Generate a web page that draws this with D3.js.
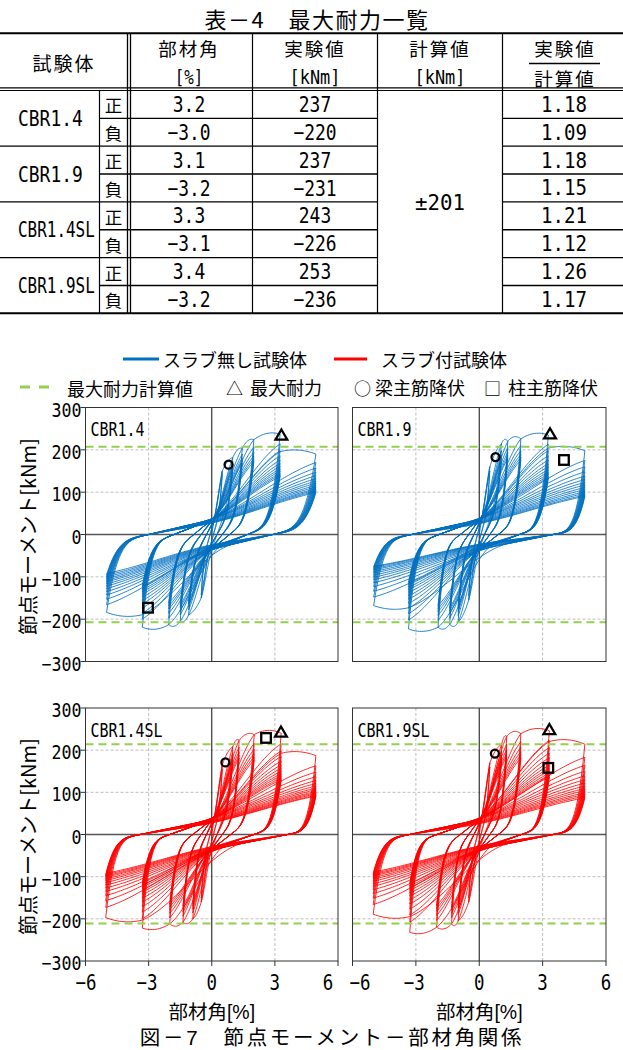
<!DOCTYPE html>
<html><head><meta charset="utf-8">
<script src="https://cdn.jsdelivr.net/npm/d3@7"></script>
<style>body{margin:0;background:#fff}svg{display:block}</style>
</head><body>
<svg id="c" width="623" height="1050"></svg>
<script>
// ================= DATA =================
// Table 4
const tableSpecimens = ["CBR1.4","CBR1.9","CBR1.4SL","CBR1.9SL"];
const tableDirs = ["正","負"];
const tableAngle = [[3.2,-3.0],[3.1,-3.2],[3.3,-3.1],[3.4,-3.2]];
const tableExp = [[237,-220],[237,-231],[243,-226],[253,-236]];
const tableCalc = "±201";
const tableRatio = [[1.18,1.09],[1.18,1.15],[1.21,1.12],[1.26,1.17]];

// Axes
const xTicks = [-6,-3,0,3,6];
const yTicks = [-300,-200,-100,0,100,200,300];
const xGrid = [-3,3];
const yGrid = [-200,-100,100,200];

// Calculated max strength lines (as drawn in each panel)
const calcLines = [[207,-207],[207,-207],[214,-211],[214,-211]];

// CBR1.4 (blue) : cycle peaks per drift level
const CBR14_posDrift = [0.5,1.0,1.45,2.0,3.25,4.95];
const CBR14_negDrift = [-0.5,-1.1,-1.5,-2.05,-3.3,-5.0];
const CBR14_posPeak = [[150,142],[182,172,165,160,156],[204,190,181,174,168],[224,206,194,185,178,172],
  [237,214,198,186,176,168,161,155,150,145,141,137],
  [190,170,157,147,139,132,126,121,116,112,108,105,102,99]];
const CBR14_negPeak = [[-150,-142],[-190,-178,-170,-164,-158],[-205,-190,-180,-172,-166],[-213,-198,-186,-176,-169,-162],
  [-219,-200,-186,-174,-164,-156,-148,-141,-135,-130,-125,-121],
  [-184,-166,-153,-143,-135,-128,-122,-117,-112,-108,-104,-100,-96,-92]];
const CBR14_posZero = [0.08,0.25,0.5,0.85,1.7,2.9];
const CBR14_negZero = [-0.08,-0.25,-0.5,-0.85,-1.8,-3.0];
const CBR14_maxPt = [3.31,232], CBR14_beamYield = [0.80,165], CBR14_colYield = [-3.03,-173];

// CBR1.9 (blue)
const CBR19_posDrift = [0.5,1.05,1.35,1.97,3.27,5.0];
const CBR19_negDrift = [-0.5,-1.0,-1.4,-1.95,-3.35,-5.0];
const CBR19_posPeak = [[160,150],[214,198,188,180,174],[220,205,194,186,180],[226,210,198,189,182,176],
  [235,213,198,186,176,167,160,153,147,142,137,133],
  [198,175,160,148,138,130,123,117,111,106,101,97,93,90]];
const CBR19_negPeak = [[-155,-145],[-207,-192,-182,-175,-169],[-212,-198,-188,-180,-174],[-219,-203,-191,-182,-175,-168],
  [-223,-202,-187,-174,-163,-153,-145,-137,-130,-124,-118,-113],
  [-168,-148,-134,-123,-114,-107,-101,-96,-91,-87,-83,-80,-77,-75]];
const CBR19_posZero = [0.08,0.25,0.5,0.9,1.9,3.5];
const CBR19_negZero = [-0.08,-0.25,-0.5,-0.9,-1.9,-3.2];
const CBR19_maxPt = [3.35,235], CBR19_beamYield = [0.77,183], CBR19_colYield = [4.01,176];

// CBR1.4SL (red)
const CBR14SL_posDrift = [0.5,1.0,1.3,2.02,3.3,4.95];
const CBR14SL_negDrift = [-0.5,-0.9,-1.37,-2.0,-3.3,-5.04];
const CBR14SL_posPeak = [[165,155],[208,194,184,177,171],[223,207,196,188,181],[237,216,202,192,184,177],
  [240,215,198,185,174,165,157,150,144,139,134,130],
  [187,163,148,137,128,121,115,110,106,102,99,96,93,91]];
const CBR14SL_negPeak = [[-160,-150],[-200,-186,-177,-170,-164],[-208,-194,-184,-176,-170],[-212,-198,-187,-178,-171,-165],
  [-222,-200,-184,-171,-160,-151,-143,-136,-130,-124,-119,-114],
  [-197,-173,-157,-145,-135,-127,-120,-114,-109,-105,-101,-98,-95,-92]];
const CBR14SL_posZero = [0.08,0.25,0.5,0.9,2.0,3.6];
const CBR14SL_negZero = [-0.08,-0.25,-0.5,-0.9,-2.0,-3.4];
const CBR14SL_maxPt = [3.29,240], CBR14SL_beamYield = [0.65,171], CBR14SL_colYield = [2.58,229];

// CBR1.9SL (red)
const CBR19SL_posDrift = [0.5,1.06,1.3,1.97,3.32,5.0];
const CBR19SL_negDrift = [-0.5,-1.0,-1.31,-2.02,-3.29,-5.02];
const CBR19SL_posPeak = [[170,160],[214,198,188,181,175],[233,214,202,193,186],[239,220,206,196,188,181],
  [246,223,206,193,182,172,164,157,151,145,140,136],
  [214,183,164,150,139,130,122,115,109,104,99,95,91,87]];
const CBR19SL_negPeak = [[-160,-150],[-205,-190,-180,-173,-167],[-212,-197,-187,-179,-173],[-220,-204,-192,-182,-175,-168],
  [-232,-208,-191,-177,-165,-155,-146,-139,-132,-126,-121,-116],
  [-189,-166,-151,-140,-131,-123,-117,-111,-106,-102,-98,-95,-92,-89]];
const CBR19SL_posZero = [0.08,0.25,0.5,0.9,2.0,3.5];
const CBR19SL_negZero = [-0.08,-0.25,-0.5,-0.9,-2.0,-3.3];
const CBR19SL_maxPt = [3.32,246], CBR19SL_beamYield = [0.74,192], CBR19SL_colYield = [3.27,158];

// Loop-shape parameters
const PINCH = 35;      // moment at zero drift on the pinched branch
const PINCH_CAP = 0.7;

// ================= STYLE / LAYOUT =================
const BLUE = "#0070C0", RED = "#FF0000", GREEN = "#92D050";
const FONT_JP = "'Noto Sans CJK JP','Noto Sans CJK SC',sans-serif";
const FONT_JP_TIGHT = "'Liberation Sans','Noto Sans CJK JP',sans-serif";
const FONT_MONO = "'DejaVu Sans Mono','Liberation Mono',monospace";
const PANELS = [
  {x0:85.5, x1:338, y0:407.5, y1:661.5},
  {x0:352.5, x1:606, y0:407.5, y1:661.5},
  {x0:85.5, x1:338, y0:708, y1:961},
  {x0:352.5, x1:606, y0:708, y1:961}
];

const specimens = [
  {name:"CBR1.4", color:BLUE, posDrift:CBR14_posDrift, negDrift:CBR14_negDrift, posPeak:CBR14_posPeak, negPeak:CBR14_negPeak,
   posZero:CBR14_posZero, negZero:CBR14_negZero, maxPt:CBR14_maxPt, beam:CBR14_beamYield, col:CBR14_colYield},
  {name:"CBR1.9", color:BLUE, posDrift:CBR19_posDrift, negDrift:CBR19_negDrift, posPeak:CBR19_posPeak, negPeak:CBR19_negPeak,
   posZero:CBR19_posZero, negZero:CBR19_negZero, maxPt:CBR19_maxPt, beam:CBR19_beamYield, col:CBR19_colYield},
  {name:"CBR1.4SL", color:RED, posDrift:CBR14SL_posDrift, negDrift:CBR14SL_negDrift, posPeak:CBR14SL_posPeak, negPeak:CBR14SL_negPeak,
   posZero:CBR14SL_posZero, negZero:CBR14SL_negZero, maxPt:CBR14SL_maxPt, beam:CBR14SL_beamYield, col:CBR14SL_colYield},
  {name:"CBR1.9SL", color:RED, posDrift:CBR19SL_posDrift, negDrift:CBR19SL_negDrift, posPeak:CBR19SL_posPeak, negPeak:CBR19SL_negPeak,
   posZero:CBR19SL_posZero, negZero:CBR19SL_negZero, maxPt:CBR19SL_maxPt, beam:CBR19SL_beamYield, col:CBR19SL_colYield}
];

const svg = d3.select("#c");

// narrow, tall half-width digits (like a Gothic half-width font)
function mono(g, x, y, str, size, cell, anchor){
  const sx = cell/(0.602*size);
  return g.append("text").attr("transform",`translate(${x},${y}) scale(${sx.toFixed(4)},1)`)
    .attr("font-family",FONT_MONO).attr("font-size",size)
    .attr("text-anchor",anchor||"middle").attr("dominant-baseline","central")
    .attr("fill","#000").text(str);
}
function jp(g, x, y, str, size, anchor, ls, fam){
  return g.append("text").attr("x",x).attr("y",y)
    .attr("font-family",fam||FONT_JP).attr("font-size",size)
    .attr("text-anchor",anchor||"middle").attr("dominant-baseline","central")
    .attr("letter-spacing",ls||0).attr("fill","#000").text(str);
}
const fmtNum = s => s.replace("-","−");

// ================= TABLE =================
const tg = svg.append("g");
jp(tg, 317, 18, "表－4　最大耐力一覧", 22, "middle", 1.5);
const T = {top:33.3, hA:87.8, hB:90.5, bottom:313.3};
const rowH = (T.bottom - T.hB)/8;
const colX = {dir:99.5, dbl1:127.5, dbl2:130.5, ang:252.5, exp:377.5, calc:502.5};
function hline(x1,x2,y,w){ tg.append("line").attr("x1",x1).attr("x2",x2).attr("y1",y).attr("y2",y).attr("stroke","#000").attr("stroke-width",w); }
function vline(x,y1,y2,w){ tg.append("line").attr("x1",x).attr("x2",x).attr("y1",y1).attr("y2",y2).attr("stroke","#000").attr("stroke-width",w); }
hline(0,623,T.top,2);
hline(0,623,T.hA,1.2);
hline(0,623,T.hB,1.2);
for(let k=1;k<=8;k++){
  const y = T.hB + k*rowH;
  if(k===8){ hline(0,623,y,2); }
  else if(k%2===0){ hline(0,colX.exp,y,1.2); hline(colX.calc,623,y,1.2); }
  else { hline(colX.dir,colX.exp,y,1.4); hline(colX.calc,623,y,1.4); }
}
vline(colX.dir,T.hB,T.bottom,1.2);
vline(colX.dbl1,T.top,T.bottom,1.3);
vline(colX.dbl2,T.top,T.bottom,1.3);
vline(colX.ang,T.top,T.bottom,1.2);
vline(colX.exp,T.top,T.bottom,1.2);
vline(colX.calc,T.top,T.bottom,1.2);

// header
jp(tg, 64, 62, "試験体", 19, "middle", 2);
jp(tg, 189, 48, "部材角", 18.5, "middle", 2);
mono(tg, 189, 77, "[%]", 20, 9.5);
jp(tg, 315, 48, "実験値", 18.5, "middle", 2);
mono(tg, 315, 77, "[kNm]", 20, 10.2);
jp(tg, 440, 48, "計算値", 18.5, "middle", 2);
mono(tg, 440, 77, "[kNm]", 20, 10.2);
jp(tg, 565, 48, "実験値", 18.5, "middle", 2);
hline(529,600,63.5,1.3);
jp(tg, 565, 78, "計算値", 18.5, "middle", 2);

// body
tableSpecimens.forEach((s,i)=>{
  const gy = T.hB + rowH*(2*i+1);
  mono(tg, 18, gy, s, 22, s.length>6?9.6:10.8, "start");
  tableDirs.forEach((dname,j)=>{
    const ry = T.hB + rowH*(2*i+j+0.5);
    jp(tg, 113.5, ry+0.5, dname, 17.5);
    mono(tg, 189, ry, fmtNum(tableAngle[i][j].toFixed(1)), 22, 10.8);
    mono(tg, 315, ry, fmtNum(String(tableExp[i][j])), 22, 10.8);
    mono(tg, 564, ry, tableRatio[i][j].toFixed(2), 22, 11.5);
  });
});
mono(tg, 440, (T.hB+T.bottom)/2, tableCalc, 22, 12.5);

// ================= LEGEND =================
const lg = svg.append("g");
lg.append("line").attr("x1",123).attr("x2",159).attr("y1",359).attr("y2",359).attr("stroke",BLUE).attr("stroke-width",3);
jp(lg, 163, 359, "スラブ無し試験体", 18, "start");
lg.append("line").attr("x1",334).attr("x2",367).attr("y1",359).attr("y2",359).attr("stroke",RED).attr("stroke-width",3);
jp(lg, 381, 359, "スラブ付試験体", 18, "start");
lg.append("line").attr("x1",20).attr("x2",49).attr("y1",387).attr("y2",387).attr("stroke",GREEN).attr("stroke-width",3).attr("stroke-dasharray","10,9");
jp(lg, 67, 388, "最大耐力計算値", 18, "start");
jp(lg, 226, 387, "△", 17, "start");
jp(lg, 250, 387, "最大耐力", 18, "start");
jp(lg, 354, 387, "○", 17, "start");
jp(lg, 375, 387, "梁主筋降伏", 18, "start");
jp(lg, 484, 387, "□", 17, "start");
jp(lg, 508, 387, "柱主筋降伏", 18, "start");

// ================= LOOP MODEL =================
// sequence of peaks; first cycle of a new level heads for the previous level's peak region first
function buildPeaks(sp){
  const pk = [];
  sp.posDrift.forEach((_,i)=>{
    const n = Math.max(sp.posPeak[i].length, sp.negPeak[i].length);
    for(let j=0;j<n;j++){
      const mp = sp.posPeak[i][Math.min(j,sp.posPeak[i].length-1)];
      const mn = sp.negPeak[i][Math.min(j,sp.negPeak[i].length-1)];
      let viaP = null, viaN = null;
      if(i>0 && j===0){
        viaP = {d:sp.posDrift[i-1], m:Math.min(sp.posPeak[i-1][0], mp*1.03)};
        viaN = {d:sp.negDrift[i-1], m:-Math.min(-sp.negPeak[i-1][0], -mn*1.03)};
      }
      pk.push({d:sp.posDrift[i], m:mp, z:sp.posZero[i], via:viaP});
      pk.push({d:sp.negDrift[i], m:mn, z:sp.negZero[i], via:viaN});
    }
  });
  return pk;
}
function branchPts(p,q){
  if(p.z===null) return [[p.d,p.m],[q.d,q.m]];
  const s = Math.sign(q.d-p.d);
  let slope = -s*PINCH/p.z;
  let Lq = slope*(q.d-p.z);
  if(Math.abs(Lq) > PINCH_CAP*Math.abs(q.m)){ slope = PINCH_CAP*q.m/(q.d-p.z); Lq = PINCH_CAP*q.m; }
  const L = d => slope*(d-p.z);
  const Ua = p.m - L(p.d), Hb = q.m - Lq;
  const b = p.z + (q.d-p.z)*0.3;
  const NS = 100, pts = [];
  for(let i=0;i<=NS;i++){
    const d = p.d + (q.d-p.d)*i/NS;
    let y = L(d);
    const u = (d-p.z)/(p.d-p.z);
    if(u>0) y += Ua*Math.pow(u,4);
    const h = (d-b)/(q.d-b);
    if(h>0) y += Hb*(0.8*(3*h*h-2*h*h*h) + 0.2*h*h);
    pts.push([d,y]);
  }
  return pts;
}
function fullBranch(p,q){
  if(q.via && p.z!==null){
    const a = branchPts(p,{d:q.via.d, m:q.via.m});
    const n = 16, seg = [];
    const bulge = Math.sign(q.m)*0.035*Math.abs(q.m);
    for(let i=1;i<=n;i++){
      const t = i/n;
      seg.push([q.via.d+(q.d-q.via.d)*t, q.via.m+(q.m-q.via.m)*t + bulge*4*t*(1-t)]);
    }
    return a.concat(seg);
  }
  return branchPts(p,q);
}

// ================= PANELS =================
specimens.forEach((sp,pi)=>{
  const P = PANELS[pi];
  const xs = d3.scaleLinear().domain([-6,6]).range([P.x0,P.x1]);
  const ys = d3.scaleLinear().domain([-300,300]).range([P.y1,P.y0]);
  const g = svg.append("g");
  const clipId = "clip"+pi;
  svg.append("clipPath").attr("id",clipId).append("rect").attr("x",P.x0).attr("y",P.y0).attr("width",P.x1-P.x0).attr("height",P.y1-P.y0);

  // grid
  g.selectAll(".gx").data(xGrid).join("line").attr("x1",d=>xs(d)).attr("x2",d=>xs(d)).attr("y1",P.y0).attr("y2",P.y1)
    .attr("stroke","#bfbfbf").attr("stroke-width",1).attr("stroke-dasharray","3,2");
  g.selectAll(".gy").data(yGrid).join("line").attr("x1",P.x0).attr("x2",P.x1).attr("y1",d=>ys(d)).attr("y2",d=>ys(d))
    .attr("stroke","#bfbfbf").attr("stroke-width",1).attr("stroke-dasharray","3,2");
  // zero lines
  g.append("line").attr("x1",xs(0)).attr("x2",xs(0)).attr("y1",P.y0).attr("y2",P.y1).attr("stroke","#222").attr("stroke-width",1.1);
  g.append("line").attr("x1",P.x0).attr("x2",P.x1).attr("y1",ys(0)).attr("y2",ys(0)).attr("stroke","#555").attr("stroke-width",1.4);

  // loops
  const peaks = buildPeaks(sp);
  const line = d3.line().x(d=>xs(d[0])).y(d=>ys(d[1]));
  let dstr = "";
  let prev = {d:0,m:0,z:null};
  peaks.forEach(q=>{ dstr += line(fullBranch(prev,q)); prev = q; });
  g.append("path").attr("d",dstr).attr("fill","none").attr("stroke",sp.color).attr("stroke-width",0.85)
    .attr("stroke-linejoin","round").attr("clip-path","url(#"+clipId+")");

  // calc lines
  g.selectAll(".cl").data(calcLines[pi]).join("line").attr("x1",P.x0).attr("x2",P.x1).attr("y1",d=>ys(d)).attr("y2",d=>ys(d))
    .attr("stroke",GREEN).attr("stroke-width",2).attr("stroke-dasharray","8,5");

  // markers
  g.append("path").attr("d",d3.symbol(d3.symbolTriangle,60)()).attr("transform",`translate(${xs(sp.maxPt[0])},${ys(sp.maxPt[1])})`)
    .attr("fill","none").attr("stroke","#000").attr("stroke-width",2.3);
  g.append("circle").attr("cx",xs(sp.beam[0])).attr("cy",ys(sp.beam[1])).attr("r",4).attr("fill","none").attr("stroke","#000").attr("stroke-width",2.3);
  g.append("rect").attr("x",xs(sp.col[0])-4.8).attr("y",ys(sp.col[1])-4.8).attr("width",9.6).attr("height",9.6)
    .attr("fill","none").attr("stroke","#000").attr("stroke-width",2.3);

  // border
  g.append("rect").attr("x",P.x0).attr("y",P.y0).attr("width",P.x1-P.x0).attr("height",P.y1-P.y0)
    .attr("fill","none").attr("stroke","#333").attr("stroke-width",1);

  // panel label
  mono(g, P.x0+5, P.y0+22, sp.name, 19, 9.0, "start");

  const left = pi%2===0, bottom = pi>=2;
  if(left){
    g.selectAll(".yt").data(yTicks).join("line").attr("x1",P.x0-5).attr("x2",P.x0).attr("y1",d=>ys(d)).attr("y2",d=>ys(d))
      .attr("stroke","#333").attr("stroke-width",1);
    yTicks.forEach(v=>{ const s = fmtNum(String(v)); mono(g, P.x0-4, ys(v)+2, s, 20, 10, "end"); });
    svg.append("text").attr("transform",`translate(27.5,${(P.y0+P.y1)/2+2}) rotate(-90)`)
      .attr("font-family",FONT_JP).attr("font-size",20).attr("text-anchor","middle").attr("dominant-baseline","central")
      .text("節点モーメント[kNm]");
  }
  if(bottom){
    g.selectAll(".xt").data(xTicks).join("line").attr("x1",d=>xs(d)).attr("x2",d=>xs(d)).attr("y1",P.y1).attr("y2",P.y1+5)
      .attr("stroke","#333").attr("stroke-width",1);
    xTicks.forEach((v,k)=>{
      let dx = 0;
      if(left && k===xTicks.length-1) dx = -10;
      if(left && k===0) dx = 2;
      if(!left && k===0) dx = 9;
      const s = fmtNum(String(v));
      mono(g, xs(v)+dx - (v<0?1.5:0), 983, s, 21, 10.5);
    });
    jp(g, (P.x0+P.x1)/2, 1012, "部材角[%]", 19.5, "middle", 0, FONT_JP_TIGHT);
  }
});

// caption
jp(svg, 332, 1037.5, "図－7　節点モーメント－部材角関係", 20.5, "middle", 2.7, FONT_JP_TIGHT);
</script>
</body></html>
